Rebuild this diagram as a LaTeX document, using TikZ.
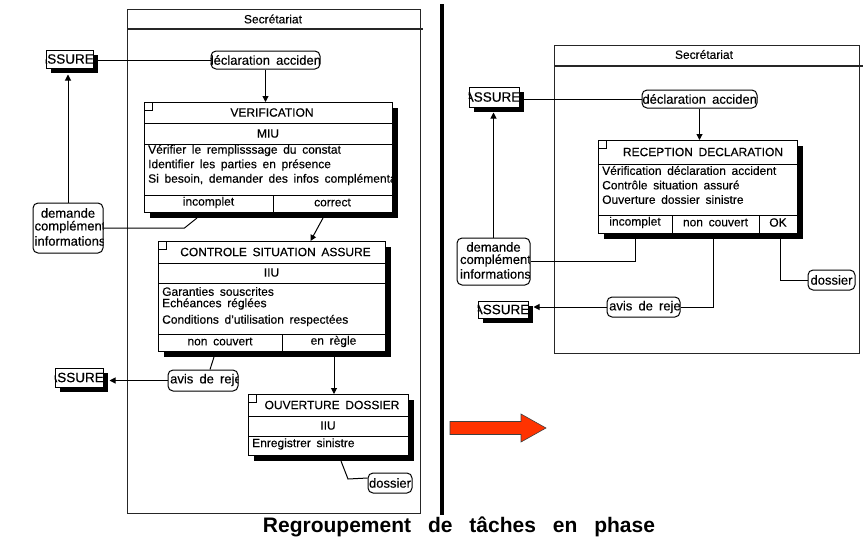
\documentclass[tikz,border=0pt]{standalone}
\usepackage{fontspec}
\setmainfont{Liberation Sans}[WordSpace=1.7,FakeBold=0.35]
\newfontfamily\capfont{Liberation Sans}[WordSpace=2.9]
\usetikzlibrary{arrows.meta,shadows}
\definecolor{arrowred}{HTML}{FF3300}
\newcommand\cliptxt[5]{\begin{scope}\clip[rounded corners=#1] (#2.south west) rectangle (#2.north east);\node[#3] at (#4) {#5};\end{scope}}
\tikzset{
 lanebox/.style={draw=black!85, line width=1.3pt, inner sep=0pt, anchor=north west},
 taskbox/.style={draw, line width=1pt, fill=white, inner sep=0pt, anchor=north west,
   drop shadow={shadow xshift=5pt, shadow yshift=-5pt, fill=black, opacity=1}},
 rowline/.style={line width=1pt},
 bubble/.style={draw, line width=1pt, rounded corners=5pt, fill=white, inner sep=0pt},
 actor/.style={draw, line width=1pt, fill=white, inner sep=0pt,
   drop shadow={shadow xshift=5pt, shadow yshift=-5pt, fill=black, opacity=1}},
 txt/.style={font=\fontsize{12}{14}\selectfont, inner sep=0pt},
 btxt/.style={font=\fontsize{13}{14}\selectfont, inner sep=0pt},
 atxt/.style={font=\fontsize{13.5}{14}\selectfont, inner sep=0pt},
 conn/.style={line width=1pt},
 arr/.style={line width=1pt, -{Triangle[length=6pt,width=6pt]}},
}
\begin{document}
\begin{tikzpicture}[x=1pt,y=-1pt]
\useasboundingbox (0,0) rectangle (863,539);

% ---------------- Left lane ----------------
\node[lanebox, minimum width=293, minimum height=504] (laneL) at (127,9) {};
\draw[lanebox] ([yshift=-20pt]laneL.north west) -- ([shift={(2pt,-20pt)}]laneL.north east);
\node[txt] (laneLt) at (273,19) {Secrétariat};

% actors and bubbles (left)
\node[actor, minimum width=47, minimum height=18] (assure1) at (69.5,59) {};
\cliptxt{0pt}{assure1}{atxt, anchor=east, name=assure1t}{[xshift=0.5pt]assure1.east}{ASSURE}
\node[bubble, minimum width=109, minimum height=18] (decl1) at (265.5,60) {};
\cliptxt{5pt}{decl1}{btxt, name=decl1t}{decl1}{déclaration accident}
\node[bubble, minimum width=70, minimum height=50] (dem1) at (68,228) {};
\cliptxt{5pt}{dem1}{btxt, name=dem1a}{68,213}{demande}
\cliptxt{5pt}{dem1}{btxt, name=dem1b}{70,227}{complément}
\cliptxt{5pt}{dem1}{btxt, name=dem1c}{70,241}{informations}
\node[bubble, minimum width=70, minimum height=21] (avis1) at (203,380.5) {};
\cliptxt{5pt}{avis1}{btxt, anchor=west, name=avis1t}{170,380}{avis de rejet}
\node[actor, minimum width=48, minimum height=19] (assure2) at (79,377.5) {};
\cliptxt{0pt}{assure2}{atxt, anchor=east, name=assure2t}{[xshift=0.5pt]assure2.east}{ASSURE}
\node[bubble, minimum width=44, minimum height=20] (dossier1) at (390,483) {};
\cliptxt{5pt}{dossier1}{btxt, name=dossier1t}{dossier1}{dossier}

% VERIFICATION
\node[taskbox, minimum width=248, minimum height=110] (verif) at (144,102) {};
\draw[rowline] ([yshift=-21pt]verif.north west) -- ([yshift=-21pt]verif.north east);
\draw[rowline] ([yshift=-42pt]verif.north west) -- ([yshift=-42pt]verif.north east);
\draw[rowline] ([yshift=18pt]verif.south west) -- ([yshift=18pt]verif.south east);
\draw[rowline] ([xshift=129pt]verif.south west) -- ([shift={(129pt,18pt)}]verif.south west);
\draw[rowline] (verif.north west) rectangle ([shift={(8pt,-8pt)}]verif.north west);
\node[txt] (verifT) at (272,112.5) {VERIFICATION};
\node[txt] (verifR) at (268,133.5) {MIU};
\node[txt, anchor=west] (verifB1) at (148,150.5) {Vérifier le remplisssage du constat};
\node[txt, anchor=west] (verifB2) at (148,165) {Identifier les parties en présence};
\cliptxt{0pt}{verif}{txt, anchor=west, name=verifB3}{148,179.5}{Si besoin, demander des infos complémentaires}
\node[txt] (vinc) at (208.5,202.5) {incomplet};
\node[txt] (vcor) at (332.5,202.5) {correct};

% CONTROLE SITUATION ASSURE
\node[taskbox, minimum width=227, minimum height=110] (ctrl) at (158,241) {};
\draw[rowline] ([yshift=-22pt]ctrl.north west) -- ([yshift=-22pt]ctrl.north east);
\draw[rowline] ([yshift=-42pt]ctrl.north west) -- ([yshift=-42pt]ctrl.north east);
\draw[rowline] ([yshift=18pt]ctrl.south west) -- ([yshift=18pt]ctrl.south east);
\draw[rowline] ([xshift=124pt]ctrl.south west) -- ([shift={(124pt,18pt)}]ctrl.south west);
\draw[rowline] (ctrl.north west) rectangle ([shift={(8pt,-8pt)}]ctrl.north west);
\node[txt] (ctrlT) at (275.5,252) {CONTROLE SITUATION ASSURE};
\node[txt] (ctrlR) at (271.5,272.5) {IIU};
\node[txt, anchor=west] (ctrlB1) at (162,291.5) {Garanties souscrites};
\node[txt, anchor=west] (ctrlB2) at (162,304) {Echéances réglées};
\node[txt, anchor=west] (ctrlB3) at (162,320.5) {Conditions d'utilisation respectées};
\node[txt] (cnc) at (220,341.5) {non couvert};
\node[txt] (creg) at (333.5,341.5) {en règle};

% OUVERTURE DOSSIER
\node[taskbox, minimum width=160, minimum height=61] (ouv) at (248,394) {};
\draw[rowline] ([yshift=-22pt]ouv.north west) -- ([yshift=-22pt]ouv.north east);
\draw[rowline] ([yshift=-42pt]ouv.north west) -- ([yshift=-42pt]ouv.north east);
\draw[rowline] (ouv.north west) rectangle ([shift={(8pt,-8pt)}]ouv.north west);
\node[txt] (ouvT) at (332,405) {OUVERTURE DOSSIER};
\node[txt] (ouvR) at (328,425.5) {IIU};
\node[txt, anchor=west] (ouvB1) at (252,444) {Enregistrer sinistre};

% connectors (left)
\draw[conn] (decl1.west) -- (decl1.west -| assure1.east);
\draw[arr] (decl1.south) -- (decl1.south |- verif.north);
\coordinate (a1b) at ([yshift=-6pt]assure1.south);
\draw[arr] (dem1.north) -- (dem1.north |- a1b);
\draw[conn] (dem1.east) -- ++(81,0) -- ([shift={(53pt,-5pt)}]verif.south west);
\draw[arr] ([shift={(179pt,-5pt)}]verif.south west) -- ([xshift=38.5pt]ctrl.north);
\draw[conn] ([shift={(56pt,-5pt)}]ctrl.south west) -- ([xshift=7pt]avis1.north);
\coordinate (a2e) at ([xshift=6pt]assure2.east);
\draw[arr] (avis1.west) -- (avis1.west -| a2e);
\coordinate (cregb) at ([xshift=176pt]ctrl.south west);
\draw[arr] (cregb) -- (cregb |- ouv.north);
\draw[conn] ([shift={(93pt,-5pt)}]ouv.south west) -- ++(7,18) -- ([yshift=5pt]dossier1.west);

% ---------------- separator ----------------
\draw[line width=4pt] (442,4) -- (442,515);

% ---------------- Right lane ----------------
\node[lanebox, minimum width=305, minimum height=308] (laneR) at (554,45) {};
\draw[lanebox] ([yshift=-21pt]laneR.north west) -- ([shift={(3pt,-21pt)}]laneR.north east);
\node[txt] (laneRt) at (704,54.5) {Secrétariat};

\node[actor, minimum width=50, minimum height=20] (assureR1) at (494,97) {};
\cliptxt{0pt}{assureR1}{atxt, anchor=east, name=assureR1t}{[xshift=1pt]assureR1.east}{ASSURE}
\node[bubble, minimum width=115, minimum height=18] (declR) at (699.5,99) {};
\cliptxt{5pt}{declR}{btxt, name=declRt}{[xshift=2pt]declR.center}{déclaration accident}
\node[bubble, minimum width=73, minimum height=47] (demR) at (493.5,261.5) {};
\cliptxt{5pt}{demR}{btxt, name=demRa}{493.5,247}{demande}
\cliptxt{5pt}{demR}{btxt, name=demRb}{495.5,260.5}{complément}
\cliptxt{5pt}{demR}{btxt, name=demRc}{495.5,274}{informations}
\node[bubble, minimum width=73, minimum height=20] (avisR) at (643.5,307) {};
\cliptxt{5pt}{avisR}{btxt, anchor=west, name=avisRt}{609,307}{avis de rejet}
\node[actor, minimum width=50, minimum height=17] (assureR2) at (503,309.5) {};
\cliptxt{0pt}{assureR2}{atxt, anchor=east, name=assureR2t}{[xshift=1pt]assureR2.east}{ASSURE}
\node[bubble, minimum width=47, minimum height=20] (dossierR) at (831.5,280) {};
\cliptxt{5pt}{dossierR}{btxt, name=dossierRt}{dossierR}{dossier}

% RECEPTION DECLARATION
\node[taskbox, minimum width=199, minimum height=93] (rec) at (598,140) {};
\draw[rowline] ([yshift=-24pt]rec.north west) -- ([yshift=-24pt]rec.north east);
\draw[rowline] ([yshift=19pt]rec.south west) -- ([yshift=19pt]rec.south east);
\draw[rowline] ([xshift=74pt]rec.south west) -- ([shift={(74pt,19pt)}]rec.south west);
\draw[rowline] ([xshift=161pt]rec.south west) -- ([shift={(161pt,19pt)}]rec.south west);
\draw[rowline] (rec.north west) rectangle ([shift={(8pt,-8pt)}]rec.north west);
\node[txt] (recT) at (703,152) {RECEPTION DECLARATION};
\node[txt, anchor=west] (recB1) at (602,170.5) {Vérification déclaration accident};
\node[txt, anchor=west] (recB2) at (602,185) {Contrôle situation assuré};
\node[txt, anchor=west] (recB3) at (602,199.5) {Ouverture dossier sinistre};
\node[txt] (rinc) at (635,222.5) {incomplet};
\node[txt] (rnc) at (715.5,222.5) {non couvert};
\node[txt] (rok) at (778,222.5) {OK};

% connectors (right)
\draw[conn] (declR.west) -- (declR.west -| assureR1.east);
\draw[arr] (declR.south) -- (declR.south |- rec.north);
\coordinate (rincb) at ([xshift=37pt]rec.south west);
\draw[conn] (rincb) |- (demR.east);
\coordinate (aR1b) at ([yshift=-5pt]assureR1.south);
\draw[arr] (demR.north) -- (demR.north |- aR1b);
\coordinate (rncb) at ([xshift=115pt]rec.south west);
\draw[conn] (rncb) |- (avisR.east);
\coordinate (aR2e) at ([xshift=5pt]assureR2.east);
\draw[arr] (avisR.west) -- (avisR.west -| aR2e);
\coordinate (rokb) at ([xshift=182pt]rec.south west);
\draw[conn] (rokb) |- (dossierR.west);

% red arrow
\draw[fill=arrowred, draw=black!75, line width=0.6pt] (450,421.5) -- (521,421.5) -- (521,414) -- (546,428) -- (521,442) -- (521,434.5) -- (450,434.5) -- cycle;

% caption
\node[font=\capfont\fontsize{21}{24}\selectfont\bfseries, inner sep=0pt] (caption) at (459,527) {Regroupement de tâches en phase};
\end{tikzpicture}
\end{document}
